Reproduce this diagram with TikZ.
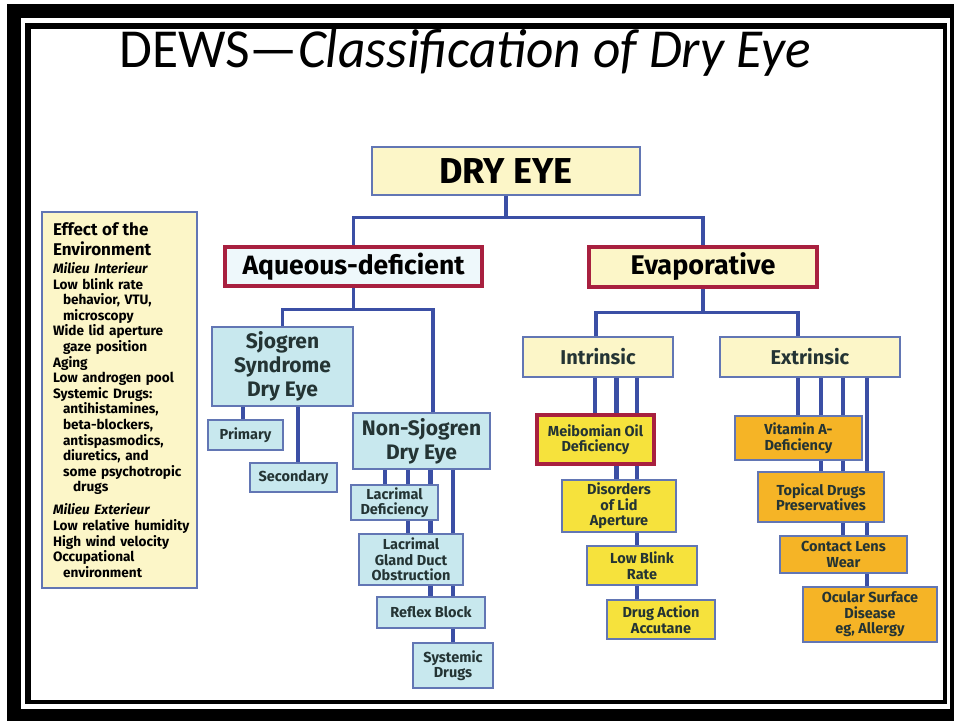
\documentclass[tikz,border=0pt]{standalone}
\usepackage{fontspec}
\setmainfont{Carlito}
\newfontfamily\boxfont{Fira Sans}
\usetikzlibrary{backgrounds}

\definecolor{linkblue}{HTML}{3B4FA5}
\definecolor{edgeblue}{HTML}{6276B4}
\definecolor{framered}{HTML}{A8203F}
\definecolor{paleyellow}{HTML}{FCF6C8}
\definecolor{paleblue}{HTML}{EEF8FB}
\definecolor{skyblue}{HTML}{C8E8EE}
\definecolor{lemon}{HTML}{F6E23C}
\definecolor{amber}{HTML}{F5B426}
\definecolor{inkgray}{HTML}{243434}

\tikzset{
  sz/.style 2 args={minimum width=#1, minimum height=#2},
  box/.style={draw=edgeblue, line width=1.2pt},
  redbox/.style={draw=framered, line width=4.5pt},
  small/.style={font=\boxfont\bfseries\fontsize{14.5}{15.5}\selectfont},
  mid/.style={font=\boxfont\bfseries\fontsize{21}{24}\selectfont},
  link/.style={draw=linkblue, line width=3.5pt},
  thicklink/.style={link, line width=5pt}
}

\begin{document}
\begin{tikzpicture}
  [x=1pt,y=-1pt,every node/.style={inner sep=0pt,align=center,text=inkgray}]
  \useasboundingbox (0,0) rectangle (954,721);

  % frame
  \begin{scope}[on background layer]
    \fill[white] (0,0) rectangle (954,721);
    \fill[black] (7,4) rectangle (954,721);
    \fill[white] (21,18) rectangle (950,709);
    \fill[black] (25,23) rectangle (947,704);
    \fill[white] (31,29) rectangle (943,700);
  \end{scope}

  \node[text=black,anchor=base,xscale=0.97,font=\fontsize{55}{60}\selectfont] (nTitle) at (465,67)
    {DEWS---\textit{Classification of Dry Eye}};

  % top levels
  \node[box,fill=paleyellow,sz={268}{48},font=\boxfont\bfseries\fontsize{36}{38}\selectfont,text=black] (nDry) at (506,171) {DRY EYE};
  \node[redbox,fill=paleblue,sz={257}{39},font=\boxfont\bfseries\fontsize{26.5}{28}\selectfont,text=black] (nAqueous) at (353.5,266.5) {Aqueous-deficient};
  \node[redbox,fill=paleyellow,sz={228}{40},font=\boxfont\bfseries\fontsize{27}{28}\selectfont,text=black] (nEvap) at (703,267) {Evaporative};

  % aqueous-deficient branch
  \node[box,fill=skyblue,sz={141}{79},mid] (nSjogren) at (282.5,366.5) {Sjogren\\Syndrome\\Dry Eye};
  \node[box,fill=skyblue,sz={75}{30},small] (nPrimary) at (245.5,435) {Primary};
  \node[box,fill=skyblue,sz={87}{29},small] (nSecondary) at (293.5,477.5) {Secondary};
  \node[box,fill=skyblue,sz={137}{56},mid] (nNonSjogren) at (421.5,441) {Non-Sjogren\\Dry Eye};
  \node[box,fill=skyblue,sz={87}{35},small] (nLacDef) at (394.5,502.5) {Lacrimal\\Deficiency};
  \node[box,fill=skyblue,sz={104}{51},small] (nLacGland) at (411,559.5) {Lacrimal\\Gland Duct\\Obstruction};
  \node[box,fill=skyblue,sz={108}{31},small] (nReflex) at (431,612.5) {Reflex Block};
  \node[box,fill=skyblue,sz={80}{45},small] (nSysDrugs) at (453,665.5) {Systemic\\Drugs};

  % evaporative branch
  \node[box,fill=paleyellow,sz={150}{40},font=\boxfont\bfseries\fontsize{20}{22}\selectfont] (nIntrinsic) at (598,357) {Intrinsic};
  \node[box,fill=paleyellow,sz={180}{40},font=\boxfont\bfseries\fontsize{20}{22}\selectfont] (nExtrinsic) at (810,357) {Extrinsic};
  \node[redbox,fill=lemon,sz={117}{49},small] (nMeibomian) at (595.5,439.5) {Meibomian Oil\\Deficiency};
  \node[box,fill=lemon,sz={114}{52},small] (nLid) at (619,506) {Disorders\\of Lid\\Aperture};
  \node[box,fill=lemon,sz={110}{39},small] (nBlink) at (642,565.5) {Low Blink\\Rate};
  \node[box,fill=lemon,sz={108}{39},small] (nAccutane) at (661,619.5) {Drug Action\\Accutane};
  \node[box,fill=amber,sz={127}{44},small] (nVitamin) at (798.5,438) {Vitamin A-\\Deficiency};
  \node[box,fill=amber,sz={126}{50},small] (nTopical) at (821,497) {Topical Drugs\\Preservatives};
  \node[box,fill=amber,sz={127}{37},small] (nLens) at (843.5,554.5) {Contact Lens\\Wear};
  \node[box,fill=amber,sz={134}{55},small] (nOcular) at (870,614.5) {Ocular Surface\\Disease\\eg, Allergy};

  % environment panel
  \node[box,fill=paleyellow,sz={155}{376},text width=148,align=left,text=black,
        font=\boxfont\bfseries\fontsize{13.6}{15.6}\selectfont] (nEnv) at (119.5,400) {%
    \leftskip=7.5pt
    {\fontsize{17}{20}\selectfont Effect of the\\Environment\par}\vspace{2.5pt}
    {\itshape Milieu Interieur}\\
    Low blink rate\\
    \hspace*{10pt}behavior, VTU,\\
    \hspace*{10pt}microscopy\\
    Wide lid aperture\\
    \hspace*{10pt}gaze position\\
    Aging\\
    Low androgen pool\\
    Systemic Drugs:\\
    \hspace*{10pt}antihistamines,\\
    \hspace*{10pt}beta-blockers,\\
    \hspace*{10pt}antispasmodics,\\
    \hspace*{10pt}diuretics, and\\
    \hspace*{10pt}some psychotropic\\
    \hspace*{20pt}drugs\par\vspace{7.5pt}
    {\itshape Milieu Exterieur}\\
    Low relative humidity\\
    High wind velocity\\
    Occupational\\
    \hspace*{10pt}environment\par};

  % connectors
  \begin{scope}[on background layer]
    \draw[link] (nDry.south) -- ++(0,22) -| (nAqueous.north);
    \draw[link] (nDry.south) -- ++(0,22) -| (nEvap.north);
    \draw[link] (nAqueous.south) -- ++(0,21) -| (nSjogren.north);
    \draw[link] (nAqueous.south) -- ++(0,21) -| (433,0 |- nNonSjogren.north);
    \draw[link] (nEvap.south) -- ++(0,23) -| (596,0 |- nIntrinsic.north);
    \draw[link] (nEvap.south) -- ++(0,23) -| (798,0 |- nExtrinsic.north);
    \foreach \from/\to/\x in {nSjogren/nPrimary/243,nSjogren/nSecondary/298,
        nNonSjogren/nLacDef/385,nNonSjogren/nLacGland/408,nNonSjogren/nSysDrugs/453,
        nIntrinsic/nMeibomian/595,nIntrinsic/nAccutane/637,
        nExtrinsic/nVitamin/798,nExtrinsic/nTopical/821,nExtrinsic/nLens/843,nExtrinsic/nOcular/867}
      \draw[link] (\x,0 |- \from.south) -- (\x,0 |- \to.north);
    \foreach \from/\to/\x in {nNonSjogren/nReflex/430,nIntrinsic/nLid/616}
      \draw[thicklink] (\x,0 |- \from.south) -- (\x,0 |- \to.north);
  \end{scope}
\end{tikzpicture}
\end{document}
